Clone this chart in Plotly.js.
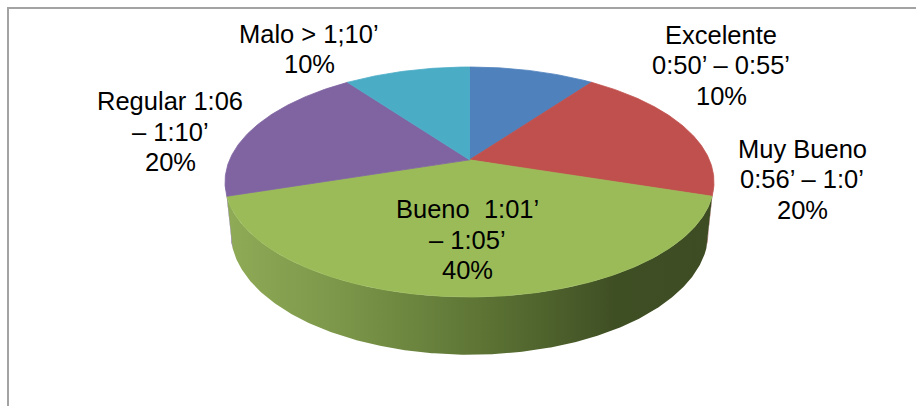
<!DOCTYPE html>
<html>
<head>
<meta charset="utf-8">
<script src="https://cdn.plot.ly/plotly-3.0.1.min.js"></script>
<style>
  html, body { margin: 0; padding: 0; background: #ffffff; }
  #chart { width: 916px; height: 406px; }
</style>
</head>
<body>
<div id="chart"></div>
<script>
// Tiempo por categoría (rangos de minutos) y su porcentaje
const labels = [
  'Excelente<br>0:50’ – 0:55’',
  'Muy Bueno<br>0:56’ – 1:0’',
  'Bueno\u00a0 1:01’<br>– 1:05’',
  'Regular 1:06<br>– 1:10’',
  'Malo > 1;10’'
];
const values = [10, 20, 40, 20, 10];

// Styling
const topColors  = ['#4f81bd', '#c0504d', '#9bbb59', '#8064a2', '#4bacc6'];
const sideColors = ['#3b6190', '#8f3a38', '#7a9646', '#5f4a7a', '#388196'];
const greenSideScale = [
  [0, '#8fab57'], [0.25, '#7a9548'], [0.55, '#5a7133'], [0.8, '#3f4f24'], [1, '#3e4c23']
];

// Geometry of the 3D pie (screen box of the top face, tilt, perspective, thickness)
const W = 916, H = 406;
const box = { x0: 225, x1: 714, y0: 67, y1: 297 };
const tilt = 27 * Math.PI / 180;
const dist = 4.63;     // camera distance in pie radii
const thick = 0.235;   // pie thickness in pie radii

// Label placement (first line centre) and line spacing
const labelPos = [[721, 34.5], [802, 148.5], [467, 209], [170, 101], [309, 33.5]];
const lineGap = 30.5;
const font = { family: 'Liberation Sans, Arial, sans-serif', size: 25.5, color: '#000000' };

// theta: degrees clockwise from 12 o'clock; h: height (0 = top face, -thick = bottom)
function project(theta, h) {
  const t = theta * Math.PI / 180;
  const X = Math.sin(t), D = Math.cos(t);
  const z = dist + D * Math.cos(tilt) - h * Math.sin(tilt);
  const v = D * Math.sin(tilt) + h * Math.cos(tilt);
  return [X / z, -v / z];
}

// Fit the projected top rim into the screen box
let mnx = Infinity, mxx = -Infinity, mny = Infinity, mxy = -Infinity;
for (let a = 0; a <= 360; a += 0.25) {
  const p = project(a, 0);
  mnx = Math.min(mnx, p[0]); mxx = Math.max(mxx, p[0]);
  mny = Math.min(mny, p[1]); mxy = Math.max(mxy, p[1]);
}
const kx = (box.x1 - box.x0) / (mxx - mnx);
const ky = (box.y1 - box.y0) / (mxy - mny);
const toScreen = p => [box.x0 + (p[0] - mnx) * kx, box.y0 + (p[1] - mny) * ky];

// Silhouette angles of the side wall (widest points on screen)
let thR = 90, thL = 270, bestR = -Infinity, bestL = Infinity;
for (let a = 60; a <= 150; a += 0.1) { const p = project(a, 0); if (p[0] > bestR) { bestR = p[0]; thR = a; } }
for (let a = 210; a <= 300; a += 0.1) { const p = project(a, 0); if (p[0] < bestL) { bestL = p[0]; thL = a; } }

function arc(a0, a1, h) {
  const pts = [];
  const n = Math.max(2, Math.ceil(Math.abs(a1 - a0) / 0.5));
  for (let i = 0; i <= n; i++) pts.push(toScreen(project(a0 + (a1 - a0) * i / n, h)));
  return pts;
}

const total = values.reduce((s, v) => s + v, 0);
const starts = [];
let acc = 0;
values.forEach(v => { starts.push(acc / total * 360); acc += v; });

const traces = [];

// Side walls (front half only)
values.forEach((v, i) => {
  const a0 = Math.max(starts[i], thR);
  const a1 = Math.min(starts[i] + v / total * 360, thL);
  if (a1 <= a0) return;
  const pts = arc(a0, a1, 0).concat(arc(a1, a0, -thick));
  pts.push(pts[0]);
  const tr = {
    type: 'scatter', mode: 'lines', fill: 'toself',
    x: pts.map(p => p[0]), y: pts.map(p => p[1]),
    line: { width: 0, color: sideColors[i] },
    fillcolor: sideColors[i],
    hoverinfo: 'skip', showlegend: false
  };
  if (i === 2) {
    tr.fillgradient = { type: 'horizontal', colorscale: greenSideScale };
  }
  traces.push(tr);
});

// Top faces: wedges from the projected pie centre
const centre = toScreen([0, 0]);
values.forEach((v, i) => {
  const a0 = starts[i], a1 = starts[i] + v / total * 360;
  const pts = [centre].concat(arc(a0, a1, 0));
  pts.push(centre);
  traces.push({
    type: 'scatter', mode: 'lines', fill: 'toself',
    x: pts.map(p => p[0]), y: pts.map(p => p[1]),
    line: { width: 0.8, color: topColors[i] },
    fillcolor: topColors[i],
    hoverinfo: 'skip', showlegend: false
  });
});

// Data labels: category text lines plus percentage
const annotations = [];
labels.forEach((lab, i) => {
  const lines = lab.split('<br>').concat([Math.round(values[i] / total * 100) + '%']);
  lines.forEach((ln, j) => {
    annotations.push({
      x: labelPos[i][0], y: labelPos[i][1] + j * lineGap,
      xref: 'x', yref: 'y', text: ln, showarrow: false,
      xanchor: 'center', yanchor: 'middle', font: font
    });
  });
});

const layout = {
  width: W, height: H,
  margin: { l: 0, r: 0, t: 0, b: 0 },
  paper_bgcolor: '#ffffff', plot_bgcolor: '#ffffff',
  showlegend: false,
  xaxis: { range: [0, W], visible: false, fixedrange: true },
  yaxis: { range: [H, 0], visible: false, fixedrange: true },
  shapes: [{
    type: 'rect', xref: 'x', yref: 'y',
    x0: 8, y0: 8, x1: W + 40, y1: H + 40,
    line: { color: '#a3a3a3', width: 2 }, fillcolor: 'rgba(0,0,0,0)'
  }],
  annotations: annotations
};

Plotly.newPlot('chart', traces, layout, { staticPlot: true, displayModeBar: false });
</script>
</body>
</html>
